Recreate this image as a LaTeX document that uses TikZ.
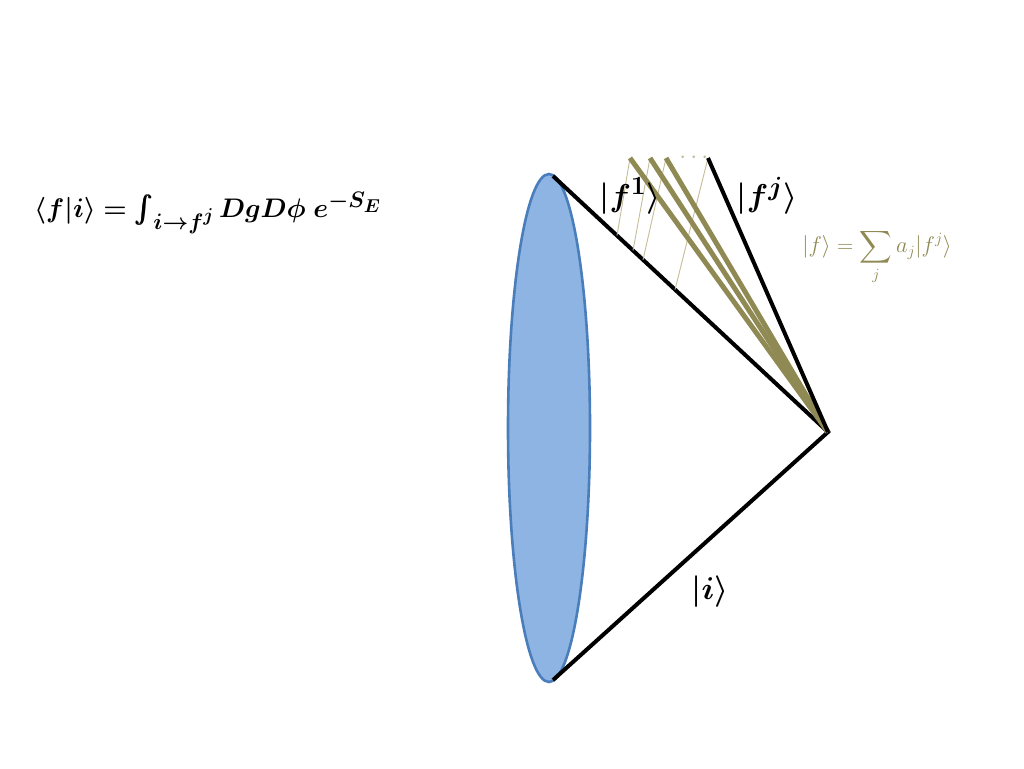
\documentclass[tikz,border=0pt]{standalone}
\usepackage{amsmath,bm}
\usepackage{graphicx}
\usetikzlibrary{shapes.geometric,calc}
\definecolor{olivel}{RGB}{143,137,83}
\definecolor{olived}{RGB}{196,189,151}
\definecolor{bluefill}{RGB}{142,180,227}
\definecolor{blueedge}{RGB}{74,126,187}
\tikzset{
  blackline/.style={line width=4pt, black},
  oliveline/.style={line width=5pt, olivel},
  thinline/.style={line width=0.9pt, olived},
  bigtxt/.style={font=\fontsize{24.88}{30}\selectfont, inner sep=0pt},
  smalltxt/.style={font=\fontsize{20.74}{25}\selectfont, inner sep=0pt, text=olivel},
}
\newcommand{\lbl}[1]{\scalebox{1.27}{$\bm{#1}$}}
\begin{document}
\begin{tikzpicture}[x=1pt,y=-1pt]
\useasboundingbox (0,0) rectangle (1024,768);
\node[ellipse, draw=blueedge, fill=bluefill, line width=2.6pt, minimum width=82pt, minimum height=508pt, inner sep=0pt] (disk) at (549,428) {};
\coordinate (top) at (553,176);
\coordinate (bot) at (553,680);
\coordinate (apex) at (828,432);
\coordinate (fa) at (630,158);
\coordinate (fb) at (650,158);
\coordinate (fc) at (666,158);
\coordinate (fj) at (708,158);
\draw[blackline] (top) -- (apex) -- (bot);
\foreach \p/\q in {fa/617,fb/633,fc/643,fj/675}{
  \draw[thinline] (\p) -- ($(top)!{(\q-553)/275}!(apex)$);
}
\draw[oliveline] (fa) -- (apex);
\draw[oliveline] (fb) -- (apex);
\draw[oliveline] (fc) -- (apex);
\draw[blackline] (fj) -- (apex);
\node[text=olived, inner sep=0pt, font=\fontsize{24.88}{30}\selectfont] (dots) at (696,158) {$\cdots$};
\node[bigtxt] (f1) at (630,196) {\lbl{|f^{1}\rangle}};
\node[bigtxt] (fjl) at (767,196) {\lbl{|f^{j}\rangle}};
\node[bigtxt] (il) at (710,592) {\lbl{|i\rangle}};
\node[smalltxt] (sum) at (877,257) {\scalebox{1.09}{$|f\rangle=\displaystyle\sum_{j}a_j|f^j\rangle$}};
\node[bigtxt, anchor=west] (amp) at (34,213) {\scalebox{1.08}{$\bm{\langle f|i\rangle=\textstyle\int_{i\to f^{j}}DgD\phi\;e^{-S_E}}$}};
\end{tikzpicture}
\end{document}
